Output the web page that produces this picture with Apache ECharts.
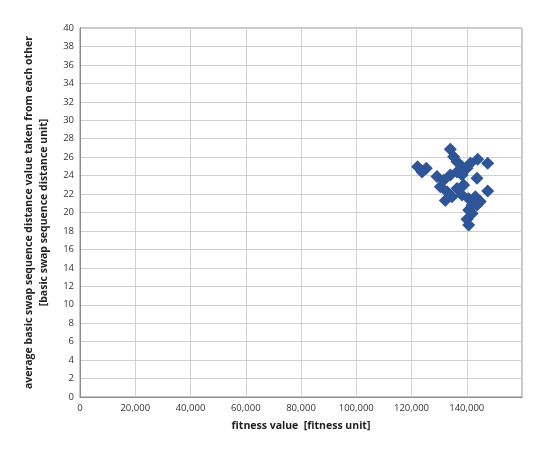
<!DOCTYPE html>
<html><head><meta charset="utf-8">
<script src="https://cdn.jsdelivr.net/npm/echarts@6/dist/echarts.min.js"></script>
<style>html,body{margin:0;padding:0;background:#fff}#c{width:550px;height:453px}</style>
</head><body><div id="c"></div>
<script>
const fitness = [134060,135250,122200,125360,123800,143950,147570,141300,140100,143720,147570,
  129230,131630,134060,136470,138280,130430,132850,138870,136470,132240,134670,138280,
  140700,143110,144920,141920,143720,140700,141920,140100,140700,136470,138280];
const distance = [26.85,26.05,24.97,24.8,24.4,25.77,25.33,25.33,24.8,23.7,22.33,
  23.9,23.5,24.07,24.4,24.07,22.8,22.26,22.98,22.6,21.3,21.7,21.9,
  21.5,21.7,21.2,20.8,20.8,20.27,19.9,19.26,18.65,25.5,24.97];
const xTicks = {min:0, max:160000, interval:20000};
const yTicks = {min:0, max:40, interval:2};
const xName = 'fitness value  [fitness unit]';
const yName = 'average basic swap sequence distance value taken from each other\n[basic swap sequence distance unit]';

const pts = fitness.map((f,i)=>[f, distance[i]]);
const font = '"Open Sans", Lato, sans-serif';
const chart = echarts.init(document.getElementById('c'));
chart.setOption({
  animation:false,
  grid:{left:80,right:28,top:28,bottom:56,show:true,borderColor:'#8c8c8c',borderWidth:1},
  xAxis:{type:'value',min:xTicks.min,max:xTicks.max,interval:xTicks.interval,
    name:xName,nameLocation:'middle',nameGap:24,
    nameTextStyle:{fontFamily:font,fontWeight:'bold',fontSize:10.5,color:'#222'},
    axisLine:{show:true,lineStyle:{color:'#8c8c8c'}},axisTick:{show:false},
    splitLine:{show:true,lineStyle:{color:'#d0d0d0'}},
    axisLabel:{fontFamily:font,fontSize:9.5,color:'#333',margin:6,showMaxLabel:false,
      formatter:v=>v.toLocaleString('en-US')}},
  yAxis:{type:'value',min:yTicks.min,max:yTicks.max,interval:yTicks.interval,
    name:yName,nameLocation:'middle',nameGap:28,nameRotate:90,
    nameTextStyle:{fontFamily:font,fontWeight:'bold',fontSize:10.5,color:'#222',lineHeight:15},
    axisLine:{show:true,lineStyle:{color:'#8c8c8c'}},axisTick:{show:false},
    splitLine:{show:true,lineStyle:{color:'#d0d0d0'}},
    axisLabel:{fontFamily:font,fontSize:9.5,color:'#333',margin:6}},
  series:[{type:'scatter',data:pts,symbol:'diamond',symbolSize:13,
    itemStyle:{color:'#2E5597',opacity:1}}]
});
</script></body></html>
